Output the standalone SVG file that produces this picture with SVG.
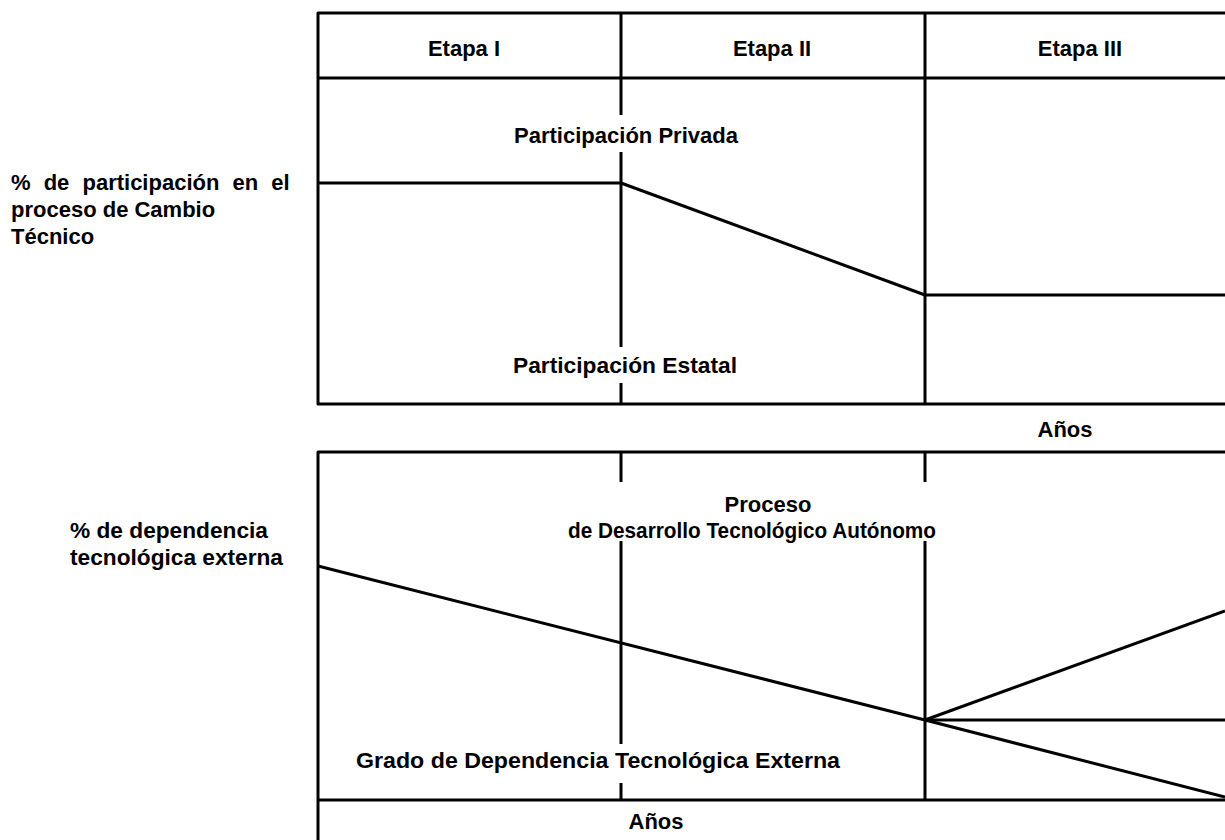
<svg xmlns="http://www.w3.org/2000/svg" width="1225" height="840" viewBox="0 0 1225 840">
<style>
  .ln { stroke: #000; stroke-width: 3; fill: none; stroke-linejoin: round; }
  .tx { font-family: "Liberation Sans", Arial, Helvetica, sans-serif; font-weight: bold; font-size: 22px; fill: #000; }
  .mid { text-anchor: middle; }
</style>
<rect width="1225" height="840" fill="#fff"/>

<g id="upper-chart">
  <g id="upper-frame">
    <path class="ln" d="M1225 13 H318 V404 H1225"/>
    <line class="ln" x1="318" y1="78" x2="1225" y2="78"/>
    <line class="ln" x1="621" y1="13" x2="621" y2="115"/>
    <line class="ln" x1="621" y1="152" x2="621" y2="347"/>
    <line class="ln" x1="621" y1="383" x2="621" y2="404"/>
    <line class="ln" x1="925" y1="13" x2="925" y2="404"/>
  </g>
  <g id="upper-headers">
    <text class="tx mid" x="464" y="56">Etapa I</text>
    <text class="tx mid" x="772" y="56">Etapa II</text>
    <text class="tx mid" x="1080" y="56">Etapa III</text>
  </g>
  <g id="upper-curve">
    <polyline class="ln" points="318,183 621,183 925,295 1225,295"/>
  </g>
  <text id="lbl-privada" class="tx" x="514" y="143" textLength="224" lengthAdjust="spacingAndGlyphs">Participación Privada</text>
  <text id="lbl-estatal" class="tx" x="513" y="373" textLength="224" lengthAdjust="spacingAndGlyphs">Participación Estatal</text>
  <text id="lbl-anos-1" class="tx mid" x="1065" y="437">Años</text>
  <g id="upper-axis-label">
    <text class="tx" x="11" y="190" word-spacing="7">% de participación en el</text>
    <text class="tx" x="11" y="217">proceso de Cambio</text>
    <text class="tx" x="11" y="244">Técnico</text>
  </g>
</g>

<g id="lower-chart">
  <g id="lower-frame">
    <path class="ln" d="M1225 452 H318 V840"/>
    <line class="ln" x1="318" y1="800" x2="1225" y2="800"/>
    <line class="ln" x1="621" y1="452" x2="621" y2="482"/>
    <line class="ln" x1="621" y1="541" x2="621" y2="744"/>
    <line class="ln" x1="621" y1="783" x2="621" y2="800"/>
    <line class="ln" x1="925" y1="452" x2="925" y2="482"/>
    <line class="ln" x1="925" y1="541" x2="925" y2="800"/>
  </g>
  <g id="lower-curves">
    <polyline class="ln" points="318,566 925,720 1225,797"/>
    <line class="ln" x1="925" y1="720" x2="1225" y2="611"/>
    <line class="ln" x1="925" y1="720" x2="1225" y2="720"/>
  </g>
  <g id="lbl-proceso">
    <text class="tx mid" x="768" y="512">Proceso</text>
    <text class="tx" x="568" y="538" textLength="368" lengthAdjust="spacingAndGlyphs">de Desarrollo Tecnológico Autónomo</text>
  </g>
  <text id="lbl-grado" class="tx" x="356" y="768" textLength="484" lengthAdjust="spacingAndGlyphs">Grado de Dependencia Tecnológica Externa</text>
  <text id="lbl-anos-2" class="tx mid" x="656" y="829">Años</text>
  <g id="lower-axis-label">
    <text class="tx" x="70" y="538" textLength="198" lengthAdjust="spacingAndGlyphs">% de dependencia</text>
    <text class="tx" x="70" y="565" textLength="213" lengthAdjust="spacingAndGlyphs">tecnológica externa</text>
  </g>
</g>
</svg>
